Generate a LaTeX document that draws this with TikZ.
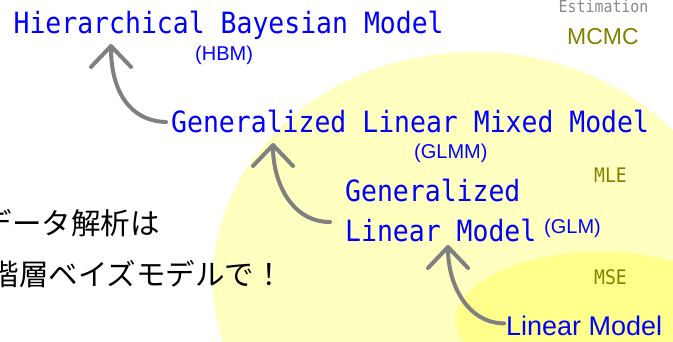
\documentclass[tikz,border=0pt]{standalone}
\usepackage{fontspec}
\usetikzlibrary{arrows.meta,calc}
\newfontfamily\bmono[FakeStretch=0.903]{DejaVu Sans Mono}
\newfontfamily\lsans{Liberation Sans}
\newfontfamily\jpfont{Noto Sans CJK JP}
\definecolor{bigyel}{RGB}{255,255,192}
\definecolor{smallyel}{RGB}{255,255,140}
\definecolor{olivec}{RGB}{128,128,0}
\definecolor{arrgray}{RGB}{128,128,128}
\definecolor{estgray}{RGB}{136,136,136}
\begin{document}
\begin{tikzpicture}[x=1pt,y=-1pt,
  model/.style={font=\bmono\fontsize{29.3}{30}\selectfont, text=blue, inner sep=0pt, anchor=base west},
  abbr/.style={font=\lsans\fontsize{20}{22}\selectfont, text=blue, inner sep=0pt, anchor=base west},
  estlbl/.style={font=\bmono\fontsize{20}{22}\selectfont, text=olivec, inner sep=0pt, anchor=base west},
  link/.style={draw=arrgray, line width=4pt, line cap=round, -{Straight Barb[length=21pt,width=40pt,round]}},
  jp/.style={font=\jpfont\fontsize{29.5}{31}\selectfont, text=black, inner sep=0pt, anchor=base east}]
\useasboundingbox (0,0) rectangle (673,342);
\clip (0,0) rectangle (673,342);
\fill[bigyel] (475,280) ellipse [x radius=262pt, y radius=228pt];
\fill[smallyel] (600,320) ellipse [x radius=144pt, y radius=68pt];

\node[model] (hbm) at (13.4,34) {Hierarchical Bayesian Model};
\node[abbr] (hbmab) at (195,61) {(HBM)};
\node[model] (glmm) at (171,133) {Generalized Linear Mixed Model};
\node[abbr] (glmmab) at (414,159) {(GLMM)};
\node[model] (glm1) at (345,202) {Generalized};
\node[model] (glm2) at (345,242) {Linear Model};
\node[abbr] (glmab) at (544,234) {(GLM)};
\node[font=\lsans\fontsize{27}{30}\selectfont, text=blue, inner sep=0pt, anchor=base west] (lm) at (506,335) {Linear Model};
\node[font=\bmono\fontsize{16.5}{18}\selectfont, text=estgray, inner sep=0pt, anchor=base west] (est) at (558.5,13) {Estimation};
\node[font=\lsans\fontsize{23}{25}\selectfont, text=olivec, inner sep=0pt, anchor=base west] (mcmc) at (567,45) {MCMC};
\node[estlbl] (mle) at (594,183) {MLE};
\node[estlbl] (mse) at (594,285) {MSE};
\node[jp] (jp1) at (160,235) {データ解析は};
\node[jp] (jp2) at (284,286) {階層ベイズモデルで！};

\draw[link] ([xshift=-5pt]glmm.west) .. controls +(-37,-1) and +(0,46) .. ([xshift=97.6pt,yshift=-10pt]hbm.base west);
\draw[link] ([xshift=-15pt,yshift=9pt]glm2.west) .. controls +(-38,0) and +(0,40) .. ([xshift=102pt,yshift=-10pt]glmm.base west);
\draw[link] ([xshift=-2pt,yshift=2pt]lm.west) .. controls +(-36,0) and +(0,40) .. ([xshift=103pt,yshift=-3pt]glm2.base west);
\end{tikzpicture}
\end{document}
